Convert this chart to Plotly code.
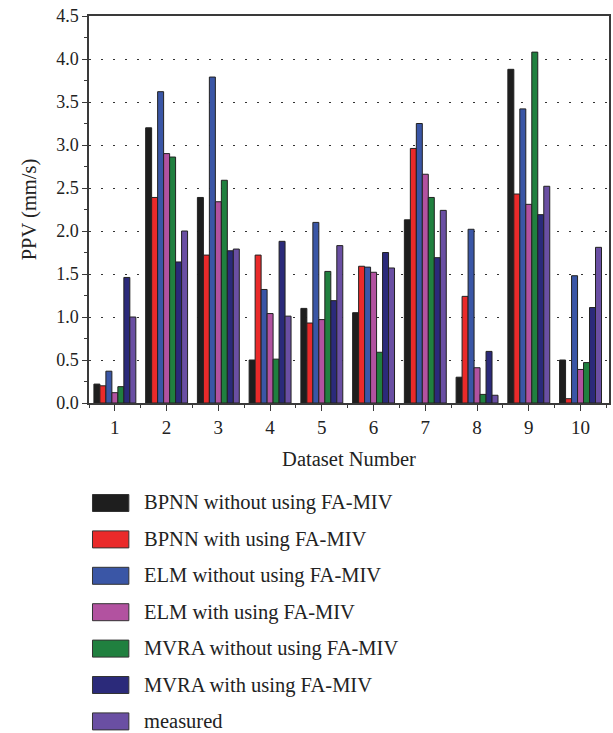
import plotly.graph_objects as go

# Dataset numbers on the x axis
datasets = [1, 2, 3, 4, 5, 6, 7, 8, 9, 10]

# PPV (mm/s) per model, one value per dataset
bpnn_without = [0.22, 3.20, 2.39, 0.50, 1.10, 1.05, 2.13, 0.30, 3.88, 0.50]
bpnn_with    = [0.20, 2.39, 1.72, 1.72, 0.93, 1.59, 2.96, 1.24, 2.43, 0.05]
elm_without  = [0.37, 3.62, 3.79, 1.32, 2.10, 1.58, 3.25, 2.02, 3.42, 1.48]
elm_with     = [0.12, 2.90, 2.34, 1.04, 0.97, 1.52, 2.66, 0.41, 2.31, 0.39]
mvra_without = [0.19, 2.86, 2.59, 0.51, 1.53, 0.59, 2.39, 0.10, 4.08, 0.47]
mvra_with    = [1.46, 1.64, 1.77, 1.88, 1.19, 1.75, 1.69, 0.60, 2.19, 1.11]
measured     = [1.00, 2.00, 1.79, 1.01, 1.83, 1.57, 2.24, 0.09, 2.52, 1.81]

series_names = [
    "BPNN without using FA-MIV",
    "BPNN with using FA-MIV",
    "ELM without using FA-MIV",
    "ELM with using FA-MIV",
    "MVRA without using FA-MIV",
    "MVRA with using FA-MIV",
    "measured",
]
series_values = [bpnn_without, bpnn_with, elm_without, elm_with,
                 mvra_without, mvra_with, measured]
series_colors = ["#1e1e1e", "#ea2a2a", "#3a56a6", "#b252a0",
                 "#20803f", "#2b2a7a", "#6a4fa3"]

FONT = "Liberation Serif"
TEXT = "#222222"
W, H = 613, 733
L, R, T, B = 89, 2, 16, 330
PW, PH = W - L - R, H - T - B

fig = go.Figure()
for name, vals, col in zip(series_names, series_values, series_colors):
    fig.add_trace(go.Bar(
        x=datasets, y=vals, name=name,
        marker=dict(color=col, line=dict(color="#222222", width=1)),
        showlegend=False,
    ))

# Legend drawn as large swatches with labels beneath the plot
def px_to_paper_x(px):
    return (px - L) / PW

def px_to_paper_y(py):
    return (H - B - py) / PH

shapes = []
annotations = []
for i, (name, col) in enumerate(zip(series_names, series_colors)):
    top = 494.5 + 36.4 * i
    bot = top + 17
    shapes.append(dict(
        type="rect", xref="paper", yref="paper",
        x0=px_to_paper_x(92.5), x1=px_to_paper_x(129),
        y0=px_to_paper_y(bot), y1=px_to_paper_y(top),
        fillcolor=col, line=dict(color="#333333", width=1),
    ))
    annotations.append(dict(
        xref="paper", yref="paper",
        x=px_to_paper_x(142), y=px_to_paper_y((top + bot) / 2),
        xanchor="left", yanchor="middle", showarrow=False,
        text=name, font=dict(family=FONT, size=20.5, color=TEXT),
    ))

axis_common = dict(
    showline=True, linecolor="#3a3a3a", linewidth=1.5, mirror=True,
    ticks="outside", tickcolor="#3a3a3a", tickwidth=1.2,
    zeroline=False,
)

fig.update_layout(
    width=W, height=H,
    margin=dict(l=L, r=R, t=T, b=B),
    paper_bgcolor="white", plot_bgcolor="white",
    barmode="group", bargap=0.19, bargroupgap=0,
    shapes=shapes, annotations=annotations,
    xaxis=dict(
        **axis_common,
        range=[0.5, 10.55], tickvals=datasets, ticklen=6,
        tickfont=dict(family=FONT, size=19, color=TEXT),
        minor=dict(tick0=0.5, dtick=1, ticks="outside", ticklen=3,
                   tickcolor="#3a3a3a"),
        showgrid=False,
        title=dict(text="Dataset Number", standoff=15,
                   font=dict(family=FONT, size=20.5, color=TEXT)),
    ),
    yaxis=dict(
        **axis_common,
        range=[0, 4.5], dtick=0.5, tickformat=".1f", ticklen=5,
        tickfont=dict(family=FONT, size=18, color=TEXT),
        minor=dict(dtick=0.25, ticks="outside", ticklen=3,
                   tickcolor="#3a3a3a"),
        showgrid=True, gridcolor="#333333", gridwidth=1,
        griddash="2px,10px",
        title=dict(text="PPV (mm/s)", standoff=14,
                   font=dict(family=FONT, size=20.5, color=TEXT)),
    ),
)

fig.write_html("out.html")
